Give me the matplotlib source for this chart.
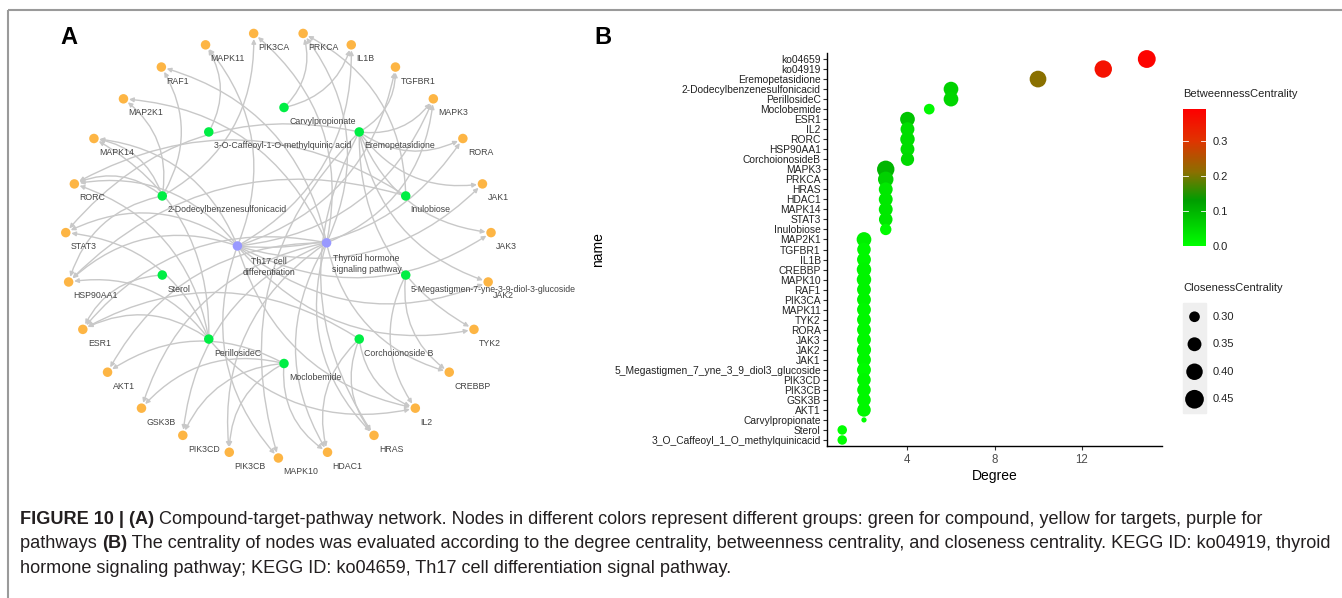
import numpy as np
import matplotlib
matplotlib.use("Agg")
import matplotlib.pyplot as plt
from matplotlib.patches import FancyArrowPatch, Rectangle
from matplotlib.colors import LinearSegmentedColormap, Normalize

W, H, DPI = 1342, 598, 100
PT = 72.0 / DPI  # points per pixel

plt.rcParams['font.family'] = ['Liberation Sans', 'DejaVu Sans']

# ---------------- panel A : compound-target-pathway network ----------------
# targets listed clockwise round the outer ring, starting just right of the top
targets = ["PRKCA", "IL1B", "TGFBR1", "MAPK3", "RORA", "JAK1", "JAK3", "JAK2", "TYK2",
           "CREBBP", "IL2", "HRAS", "HDAC1", "MAPK10", "PIK3CB", "PIK3CD", "GSK3B",
           "AKT1", "ESR1", "HSP90AA1", "STAT3", "RORC", "MAPK14", "MAP2K1", "RAF1",
           "MAPK11", "PIK3CA"]
# compounds clockwise round the inner ring, starting at the top
compounds = ["Carvylpropionate", "Eremopetasidione", "Inulobiose",
             "5-Megastigmen-7-yne-3-9-diol-3-glucoside", "Corchoionoside B",
             "Moclobemide", "PerillosideC", "Sterol", "2-Dodecylbenzenesulfonicacid",
             "3-O-Caffeoyl-1-O-methylquinic acid"]
pathways = ["Th17 cell\ndifferentiation", "Thyroid hormone\nsignaling pathway"]

th17_targets = ["JAK1", "JAK2", "JAK3", "TYK2", "STAT3", "RORC", "RORA", "IL2", "IL1B",
                "TGFBR1", "MAPK3", "MAPK14", "MAPK11", "MAPK10", "HSP90AA1"]
thyroid_targets = ["PIK3CA", "PIK3CB", "PIK3CD", "AKT1", "GSK3B", "HRAS", "RAF1",
                   "MAP2K1", "MAPK3", "PRKCA", "HDAC1", "CREBBP", "ESR1"]
eremo_targets = ["TGFBR1", "MAPK3", "RORA", "JAK1", "JAK3", "JAK2", "TYK2", "MAPK10",
                 "HRAS", "STAT3"]
dodecyl_targets = ["RORC", "MAPK14", "MAP2K1", "RAF1", "PIK3CA", "HSP90AA1"]
perilloside_targets = ["ESR1", "HSP90AA1", "RORC", "STAT3", "MAPK14", "IL2"]
moclobemide_targets = ["AKT1", "GSK3B", "PIK3CD", "PIK3CB", "HDAC1"]
corchoionoside_targets = ["IL2", "HRAS", "HDAC1", "ESR1"]
inulobiose_targets = ["RORC", "HSP90AA1", "PRKCA"]
megastigmen_targets = ["CREBBP", "IL2"]
carvyl_targets = ["PRKCA", "IL1B"]
sterol_targets = ["ESR1"]
caffeoyl_targets = ["MAPK11"]

edges = {
    pathways[0]: th17_targets,
    pathways[1]: thyroid_targets,
    "Eremopetasidione": eremo_targets,
    "2-Dodecylbenzenesulfonicacid": dodecyl_targets,
    "PerillosideC": perilloside_targets,
    "Moclobemide": moclobemide_targets,
    "Corchoionoside B": corchoionoside_targets,
    "Inulobiose": inulobiose_targets,
    "5-Megastigmen-7-yne-3-9-diol-3-glucoside": megastigmen_targets,
    "Carvylpropionate": carvyl_targets,
    "Sterol": sterol_targets,
    "3-O-Caffeoyl-1-O-methylquinic acid": caffeoyl_targets,
}

# ---------------- panel B : centrality of nodes ----------------
names = ["ko04659", "ko04919", "Eremopetasidione", "2-Dodecylbenzenesulfonicacid",
         "PerillosideC", "Moclobemide", "ESR1", "IL2", "RORC", "HSP90AA1",
         "CorchoionosideB", "MAPK3", "PRKCA", "HRAS", "HDAC1", "MAPK14", "STAT3",
         "Inulobiose", "MAP2K1", "TGFBR1", "IL1B", "CREBBP", "MAPK10", "RAF1", "PIK3CA",
         "MAPK11", "TYK2", "RORA", "JAK3", "JAK2", "JAK1",
         "5_Megastigmen_7_yne_3_9_diol3_glucoside", "PIK3CD", "PIK3CB", "GSK3B", "AKT1",
         "Carvylpropionate", "Sterol", "3_O_Caffeoyl_1_O_methylquinicacid"]
degree = [15, 13, 10, 6, 6, 5, 4, 4, 4, 4, 4, 3, 3, 3, 3, 3, 3, 3,
          2, 2, 2, 2, 2, 2, 2, 2, 2, 2, 2, 2, 2, 2, 2, 2, 2, 2, 2, 1, 1]
betweenness = [0.385, 0.36, 0.21, 0.06, 0.055, 0.01, 0.08, 0.045, 0.045, 0.045,
               0.05, 0.10, 0.06, 0.03, 0.03, 0.03, 0.03, 0.005,
               0.02, 0.01, 0.01, 0.015, 0.015, 0.015, 0.015, 0.01, 0.01, 0.01, 0.01,
               0.01, 0.01, 0.005, 0.01, 0.01, 0.01, 0.01, 0.0, 0.0, 0.0]
closeness = [0.43, 0.42, 0.405, 0.365, 0.365, 0.30, 0.365, 0.35, 0.36, 0.35,
             0.34, 0.42, 0.38, 0.35, 0.35, 0.35, 0.345, 0.31,
             0.365, 0.345, 0.35, 0.36, 0.36, 0.35, 0.35, 0.35, 0.35, 0.35, 0.35,
             0.355, 0.35, 0.35, 0.345, 0.345, 0.345, 0.345, 0.245, 0.285, 0.285]
betw_ticks = [0.0, 0.1, 0.2, 0.3]
close_ticks = [0.30, 0.35, 0.40, 0.45]
degree_ticks = [4, 8, 12]

caption = [
    [("FIGURE 10 | (A)", True),
     (" Compound-target-pathway network. Nodes in different colors represent different "
      "groups: green for compound, yellow for targets, purple for", False)],
    [("pathways ", False), ("(B)", True),
     (" The centrality of nodes was evaluated according to the degree centrality, "
      "betweenness centrality, and closeness centrality. KEGG ID: ko04919, thyroid", False)],
    [("hormone signaling pathway; KEGG ID: ko04659, Th17 cell differentiation signal "
      "pathway.", False)],
]


def ring(labels, cx, cy, r, start):
    ang = np.deg2rad(start + 360.0 * np.arange(len(labels)) / len(labels))
    return {n: (cx + r * np.sin(a), cy - r * np.cos(a)) for n, a in zip(labels, ang)}


def dot_size(c):
    d = np.sqrt(np.clip(114 + (np.asarray(c) - 0.30) * 1573, 4, None))
    return (d * PT) ** 2


fig = plt.figure(figsize=(W / DPI, H / DPI), dpi=DPI)
ax0 = fig.add_axes([0, 0, 1, 1])
ax0.set_xlim(0, W)
ax0.set_ylim(H, 0)
ax0.axis('off')

# frame
ax0.plot([8, W], [10, 10], color='#9A9A9A', lw=1.5, solid_capstyle='butt')
ax0.plot([8, 8], [10, H], color='#9A9A9A', lw=1.5, solid_capstyle='butt')

ax0.text(69, 38, "A", fontsize=17, fontweight='bold', ha='center', va='center')
ax0.text(603, 38, "B", fontsize=17, fontweight='bold', ha='center', va='center')

pos = {}
pos.update(ring(targets, 278.4, 245, 213, 180.0 / len(targets)))
pos.update(ring(compounds, 284, 235.5, 128, 0))
pos.update(ring(pathways, 282, 244.4, 44.6, 268))

for src, tlist in edges.items():
    for t in tlist:
        arr = FancyArrowPatch(pos[src], pos[t], connectionstyle="arc3,rad=0.3",
                              arrowstyle="-|>", mutation_scale=6.5, color='#C8C8C8',
                              lw=1.0, shrinkA=3.5, shrinkB=4, zorder=1)
        ax0.add_patch(arr)

node_s = (9.5 * PT) ** 2
for group, col in [(targets, '#FDB544'), (compounds, '#00EE44'), (pathways, '#9999FF')]:
    xs = [pos[n][0] for n in group]
    ys = [pos[n][1] for n in group]
    ax0.scatter(xs, ys, s=node_s, color=col, edgecolors='none', zorder=3)
    for n in group:
        x, y = pos[n]
        dy = 21 if n in pathways else 14
        ax0.text(x + 5, y + dy, n, fontsize=6.3, color='#444444', ha='left',
                 va='center', multialignment='center', linespacing=1.35, zorder=4)

# ---------------- panel B ----------------
cmap = LinearSegmentedColormap.from_list(
    "betw", [(0.0, '#00FF00'), (0.13 / 0.39, '#009E00'), (0.21 / 0.39, '#8B7000'),
             (0.30 / 0.39, '#E03400'), (1.0, '#FF0000')])
norm = Normalize(0, 0.39)

ax = fig.add_axes([827 / W, 1 - 446 / H, (1162 - 827) / W, (446 - 53) / H])
idx = np.arange(len(names))
ax.scatter(degree, idx, s=dot_size(closeness), c=betweenness, cmap=cmap, norm=norm,
           edgecolors='none', zorder=3, clip_on=False)
ax.set_ylim(len(names) - 0.4, -0.6)
ax.set_xlim(0.3, 15.7)
ax.set_yticks(idx)
ax.set_yticklabels(names, fontsize=7.4, color='#222222')
ax.set_xticks(degree_ticks)
ax.set_xticklabels([str(t) for t in degree_ticks], fontsize=8.3, color='#4D4D4D')
ax.tick_params(axis='both', length=3, width=0.8, color='#333333', pad=1.5)
ax.tick_params(axis='x', pad=3)
for s in ['top', 'right']:
    ax.spines[s].set_visible(False)
for s in ['left', 'bottom']:
    ax.spines[s].set_linewidth(1.0)
ax.set_facecolor('none')
ax.set_xlabel("Degree", fontsize=10, labelpad=2)
ax0.text(598, 250, "name", fontsize=10, rotation=90, ha='center', va='center')

# colour bar
cax = fig.add_axes([1183 / W, 1 - 246 / H, 23 / W, 137 / H])
cax.imshow(np.linspace(0, 0.39, 256)[:, None], aspect='auto', cmap=cmap, norm=norm,
           origin='lower', extent=[0, 1, 0, 0.39])
cax.set_xticks([])
cax.yaxis.tick_right()
cax.set_yticks(betw_ticks)
cax.set_yticklabels([f"{v:.1f}" for v in betw_ticks], fontsize=8, color='#222222')
cax.tick_params(axis='y', length=0, pad=5)
for s in cax.spines.values():
    s.set_visible(False)
for v in betw_ticks[1:]:
    cax.plot([0, 0.2], [v, v], color='white', lw=0.6)
    cax.plot([0.8, 1], [v, v], color='white', lw=0.6)
cax.set_xlim(0, 1)
cax.set_ylim(0, 0.39)
ax0.text(1183, 94, "BetweennessCentrality", fontsize=8, color='#222222',
         ha='left', va='center')

# size legend
ax0.text(1183, 288, "ClosenessCentrality", fontsize=8, color='#222222',
         ha='left', va='center')
leg_top, key_h = 303, 27.5
ax0.add_patch(Rectangle((1183, leg_top), 23, key_h * len(close_ticks),
                        color='#EFEFEF', zorder=1))
key_y = [leg_top + key_h * (i + 0.5) for i in range(len(close_ticks))]
ax0.scatter([1194.5] * len(close_ticks), key_y, s=dot_size(close_ticks), color='black',
            edgecolors='none', zorder=3)
for v, y in zip(close_ticks, key_y):
    ax0.text(1213, y, f"{v:.2f}", fontsize=8, color='#222222', ha='left', va='center')

# caption
for i, line in enumerate(caption):
    prev = None
    for txt, bold in line:
        kw = dict(fontsize=13.1, fontweight='bold' if bold else 'normal',
                  color='#231F20', ha='left', va='bottom')
        if prev is None:
            prev = ax0.text(20, 528 + 24.5 * i, txt, **kw)
        else:
            prev = ax0.annotate(txt, xy=(1, 0), xycoords=prev, **kw)

fig.savefig("out.png", dpi=DPI)
